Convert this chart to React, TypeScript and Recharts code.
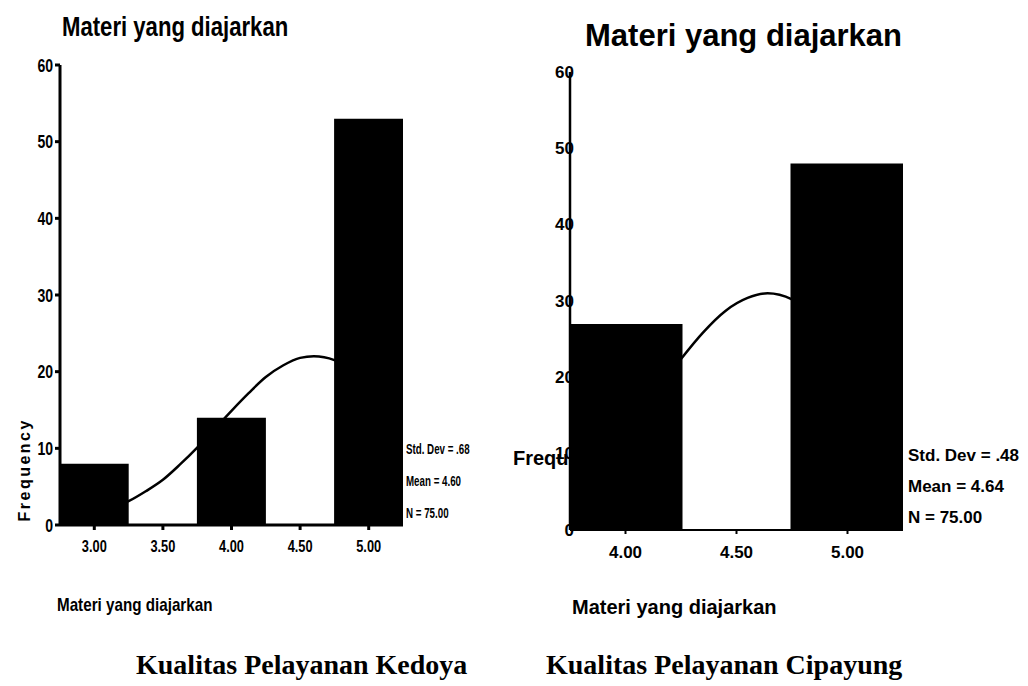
import React from "react";
import { ComposedChart, Bar, Line, XAxis, YAxis } from "recharts";

// Kedoya: score bins and their frequencies
const kedoyaScores = [3, 4, 5];
const kedoyaFreq = [8, 14, 53];
// fitted normal curve, sampled along the score axis
const kedoyaCurveX = [2.75, 3, 3.25, 3.375, 3.5, 3.625, 3.75, 3.875, 4, 4.125, 4.25, 4.375, 4.5, 4.6, 4.75, 4.875, 5, 5.25];
const kedoyaCurveY = [0.5, 1.4, 3.1, 4.4, 5.9, 7.9, 10.1, 12.5, 14.9, 17.2, 19.3, 20.8, 21.8, 22.0, 21.5, 20.3, 18.5, 13.9];
const kedoyaTicks = [3, 3.5, 4, 4.5, 5];
const kedoyaStats = ["Std. Dev = .68", "Mean = 4.60", "N = 75.00"];

// Cipayung
const cipayungScores = [4, 5];
const cipayungFreq = [27, 48];
const cipayungCurveX = [3.75, 4, 4.15, 4.25, 4.35, 4.45, 4.55, 4.64, 4.75, 4.85, 5, 5.25];
const cipayungCurveY = [5.7, 12.9, 18.5, 22.4, 25.9, 28.7, 30.4, 31.0, 30.2, 28.2, 23.5, 14.0];
const cipayungTicks = [4, 4.5, 5];
const cipayungStats = ["Std. Dev = .48", "Mean = 4.64", "N = 75.00"];

const freqTicks = [0, 10, 20, 30, 40, 50, 60];

const SANS = "'Liberation Sans', Arial, sans-serif";
const SERIF = "'Liberation Serif', 'Times New Roman', serif";

const barRows = (scores: number[], freq: number[]) => scores.map((s, i) => ({ score: s, freq: freq[i] }));
const curveRows = (xs: number[], ys: number[]) => xs.map((x, i) => ({ score: x, curve: ys[i] }));

const kedoyaBars = barRows(kedoyaScores, kedoyaFreq);
const kedoyaCurve = curveRows(kedoyaCurveX, kedoyaCurveY);
const cipayungBars = barRows(cipayungScores, cipayungFreq);
const cipayungCurve = curveRows(cipayungCurveX, cipayungCurveY);

const fmt2 = (v: number) => v.toFixed(2);

// bold tick text, optionally squeezed horizontally
function SquashTick(props: any) {
  const { x, y, payload, textAnchor, fmt, size, sx = 1, dx = 0, dy = 0 } = props;
  return (
    <g transform={`translate(${x + dx},${y + dy}) scale(${sx},1)`}>
      <text
        textAnchor={textAnchor}
        dominantBaseline="central"
        fontFamily={SANS}
        fontWeight={700}
        fontSize={size}
        fill="#000"
      >
        {fmt ? fmt(payload.value) : payload.value}
      </text>
    </g>
  );
}

function Text({ left, top, font, size, sx = 1, bold = true, children }: any) {
  return (
    <div
      style={{
        position: "absolute",
        left,
        top,
        fontFamily: font,
        fontSize: size,
        fontWeight: bold ? 700 : 400,
        whiteSpace: "nowrap",
        lineHeight: 1,
        color: "#000",
        transform: `scaleX(${sx})`,
        transformOrigin: "0 0",
      }}
    >
      {children}
    </div>
  );
}

function KedoyaChart() {
  return (
    <ComposedChart width={480} height={600} data={kedoyaBars} margin={{ top: 65, right: 77, bottom: 35, left: 10 }}>
      <XAxis
        dataKey="score"
        type="number"
        domain={[2.75, 5.25]}
        ticks={kedoyaTicks}
        allowDataOverflow
        height={40}
        stroke="#000"
        strokeWidth={3}
        tickSize={5}
        tickMargin={8}
        tick={(p: any) => <SquashTick {...p} fmt={fmt2} size={16} sx={0.8} dy={8} />}
      />
      <XAxis xAxisId="curve" dataKey="score" type="number" domain={[2.75, 5.25]} allowDataOverflow hide />
      <XAxis xAxisId="frame" orientation="top" height={0} tick={false} tickLine={false} stroke="#000" strokeWidth={2} />
      <YAxis
        domain={[0, 60]}
        ticks={freqTicks}
        width={50}
        stroke="#000"
        strokeWidth={3}
        tickSize={5}
        tickMargin={2}
        tick={(p: any) => <SquashTick {...p} size={18} sx={0.78} />}
        label={({ viewBox }: any) => (
          <text
            x={viewBox.x + 20}
            y={viewBox.y + viewBox.height * 0.88}
            transform={`rotate(-90, ${viewBox.x + 20}, ${viewBox.y + viewBox.height * 0.88})`}
            textAnchor="middle"
            fontFamily={SANS}
            fontWeight={700}
            fontSize={16}
            letterSpacing={2.5}
            fill="#000"
          >
            Frequency
          </text>
        )}
      />
      <YAxis yAxisId="frame" orientation="right" width={0} tick={false} tickLine={false} stroke="#000" strokeWidth={2} />
      <Line
        data={kedoyaCurve}
        xAxisId="curve"
        dataKey="curve"
        type="monotone"
        dot={false}
        stroke="#000"
        strokeWidth={2.5}
        isAnimationActive={false}
        {...({ zIndex: 200 } as any)}
      />
      <Bar dataKey="freq" fill="#000" barSize={69} isAnimationActive={false} />
    </ComposedChart>
  );
}

function CipayungChart() {
  return (
    <ComposedChart width={548} height={600} data={cipayungBars} margin={{ top: 72, right: 125, bottom: 30, left: 30 }}>
      <YAxis
        domain={[0, 60]}
        ticks={freqTicks}
        width={60}
        stroke="#000"
        strokeWidth={2.5}
        tickLine={false}
        tickSize={0}
        tickMargin={0}
        tick={(p: any) => <SquashTick {...p} size={17} dx={4} />}
        label={({ viewBox }: any) => (
          <text
            x={viewBox.x + 3}
            y={viewBox.y + viewBox.height * 0.858}
            fontFamily={SANS}
            fontWeight={700}
            fontSize={20}
            fill="#000"
          >
            Frequency
          </text>
        )}
        {...({ zIndex: 100 } as any)}
      />
      <XAxis xAxisId="curve" dataKey="score" type="number" domain={[3.75, 5.25]} allowDataOverflow hide />
      <XAxis xAxisId="frame" orientation="top" height={0} tick={false} tickLine={false} stroke="#000" strokeWidth={2} />
      <YAxis yAxisId="frame" orientation="right" width={0} tick={false} tickLine={false} stroke="#000" strokeWidth={2} />
      <Line
        data={cipayungCurve}
        xAxisId="curve"
        dataKey="curve"
        type="monotone"
        dot={false}
        stroke="#000"
        strokeWidth={2.5}
        isAnimationActive={false}
        {...({ zIndex: 200 } as any)}
      />
      <Bar dataKey="freq" fill="#000" barSize={114} isAnimationActive={false} />
      <XAxis
        dataKey="score"
        type="number"
        domain={[3.75, 5.25]}
        ticks={cipayungTicks}
        allowDataOverflow
        height={40}
        stroke="#000"
        strokeWidth={2}
        tickSize={4}
        tickMargin={9}
        tick={(p: any) => <SquashTick {...p} fmt={fmt2} size={17} dy={9} />}
      />
    </ComposedChart>
  );
}

export default function App() {
  return (
    <div style={{ position: "fixed", left: 0, top: 0, width: 1028, height: 686, background: "#fff", overflow: "hidden" }}>
      <div style={{ position: "absolute", left: 0, top: 0 }}>
        <KedoyaChart />
      </div>
      <div style={{ position: "absolute", left: 480, top: 0 }}>
        <CipayungChart />
      </div>

      <Text left={62} top={13} font={SANS} size={28} sx={0.79}>Materi yang diajarkan</Text>
      <Text left={585} top={20} font={SANS} size={31}>Materi yang diajarkan</Text>

      <Text left={57} top={595} font={SANS} size={19} sx={0.8}>Materi yang diajarkan</Text>
      <Text left={572} top={597} font={SANS} size={20}>Materi yang diajarkan</Text>

      {kedoyaStats.map((s, i) => (
        <Text key={s} left={406} top={441 + i * 32} font={SANS} size={15} sx={0.65}>{s}</Text>
      ))}
      {cipayungStats.map((s, i) => (
        <Text key={s} left={908} top={447 + i * 31} font={SANS} size={17}>{s}</Text>
      ))}

      <Text left={136} top={651} font={SERIF} size={28}>Kualitas Pelayanan Kedoya</Text>
      <Text left={546} top={651} font={SERIF} size={28}>Kualitas Pelayanan Cipayung</Text>
    </div>
  );
}
